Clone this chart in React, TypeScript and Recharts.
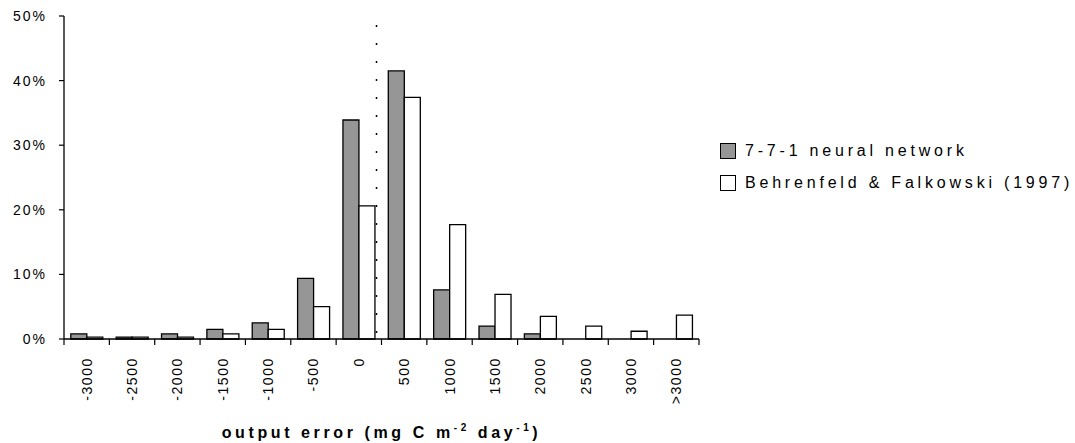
import { BarChart, Bar, XAxis, YAxis, Legend, ReferenceLine } from 'recharts';

const CATEGORIES = ['-3000', '-2500', '-2000', '-1500', '-1000', '-500', '0', '500', '1000', '1500', '2000', '2500', '3000', '>3000'];
const NEURAL_NET = [0.8, 0.3, 0.8, 1.5, 2.5, 9.4, 33.9, 41.5, 7.6, 2.0, 0.8, 0, 0, 0];
const BEHRENFELD = [0.3, 0.3, 0.3, 0.8, 1.5, 5.0, 20.6, 37.4, 17.7, 6.9, 3.5, 2.0, 1.2, 3.7];
const Y_TICKS = [0, 10, 20, 30, 40, 50];
const SERIES = [
  { key: 'nn', name: '7-7-1 neural network', fill: '#969696' },
  { key: 'bf', name: 'Behrenfeld & Falkowski (1997)', fill: '#ffffff' },
];

const data = CATEGORIES.map((bin, i) => ({ bin, nn: NEURAL_NET[i], bf: BEHRENFELD[i] }));

const FONT = '"Liberation Sans", Arial, sans-serif';
const W = 1075, H = 443;
const PLOT_W = 635;

// category boundaries get the tick marks, labels sit in the middle of each bin
function XTick(props: any) {
  const { x, y, payload, index } = props;
  const half = payload?.offset || PLOT_W / CATEGORIES.length / 2;
  const last = index === CATEGORIES.length - 1;
  return (
    <g>
      <line x1={x - half} x2={x - half} y1={y} y2={y + 6} stroke="#000" strokeWidth={1.2} />
      {last && <line x1={x + half} x2={x + half} y1={y} y2={y + 6} stroke="#000" strokeWidth={1.2} />}
      <text
        transform={`translate(${x},${y + 18}) rotate(-90)`}
        textAnchor="end"
        dominantBaseline="central"
        fontSize={14}
        letterSpacing={1.6}
        fill="#000"
        fontFamily={FONT}
      >
        {payload.value}
      </text>
    </g>
  );
}

function AxisTitle(props: any) {
  const vb = props.viewBox;
  if (!vb) return null;
  return (
    <text x={vb.x + vb.width / 2} y={vb.y + 99} textAnchor="middle" fontSize={16} fontWeight={700} letterSpacing={3.6} fontFamily={FONT} fill="#000">
      output error (mg C m<tspan fontSize={10} dy={-7}>-2</tspan>
      <tspan dy={7}> day</tspan>
      <tspan fontSize={10} dy={-7}>-1</tspan>
      <tspan dy={7}>)</tspan>
    </text>
  );
}

function LegendBox() {
  return (
    <div style={{ fontFamily: FONT, fontSize: 16, letterSpacing: 3.8, color: '#000' }}>
      {SERIES.map((s) => (
        <div key={s.key} style={{ display: 'flex', alignItems: 'center', height: 32 }}>
          <span style={{ display: 'inline-block', width: 14, height: 14, background: s.fill, border: '1.5px solid #000', marginRight: 9 }} />
          <span>{s.name}</span>
        </div>
      ))}
    </div>
  );
}

export default function App() {
  return (
    <div style={{ position: 'absolute', left: 0, top: 0, width: W, height: H, background: '#fff' }}>
      <BarChart width={W} height={H} data={data} margin={{ top: 16, right: 376, left: 0, bottom: 0 }} barCategoryGap="15%" barGap={0}>
        <XAxis
          dataKey="bin"
          height={104}
          interval={0}
          tickSize={0}
          tickMargin={0}
          tickLine={false}
          axisLine={{ stroke: '#000', strokeWidth: 1.3 }}
          tick={<XTick />}
          label={<AxisTitle />}
        />
        <XAxis xAxisId="top" dataKey="bin" orientation="top" height={0} tick={false} tickLine={false} axisLine={{ stroke: '#000', strokeWidth: 1.3 }} />
        <YAxis
          domain={[0, 50]}
          ticks={Y_TICKS}
          width={64}
          tickSize={5}
          tickMargin={12}
          tickFormatter={(v) => `${v}%`}
          tick={{ fontSize: 14, fill: '#000', fontFamily: FONT, letterSpacing: 2 }}
          tickLine={{ stroke: '#000', strokeWidth: 1.2 }}
          axisLine={{ stroke: '#000', strokeWidth: 1.3 }}
        />
        <YAxis yAxisId="right" orientation="right" width={0} domain={[0, 50]} tick={false} tickLine={false} axisLine={{ stroke: '#000', strokeWidth: 1.3 }} />
        {SERIES.map((s) => (
          <Bar key={s.key} dataKey={s.key} name={s.name} fill={s.fill} stroke="#000" strokeWidth={1.3} isAnimationActive={false} />
        ))}
        <ReferenceLine
          x="0"
          position="end"
          shape={(p: any) => (
            <line x1={p.x1 - 5} x2={p.x2 - 5} y1={p.y1} y2={p.y2} stroke="#000" strokeWidth={1.5} strokeDasharray="2 16" strokeDashoffset={-6} />
          )}
        />
        <Legend layout="vertical" align="center" verticalAlign="middle" width={355} wrapperStyle={{ left: 720, top: 135 }} content={() => <LegendBox />} />
      </BarChart>
    </div>
  );
}
